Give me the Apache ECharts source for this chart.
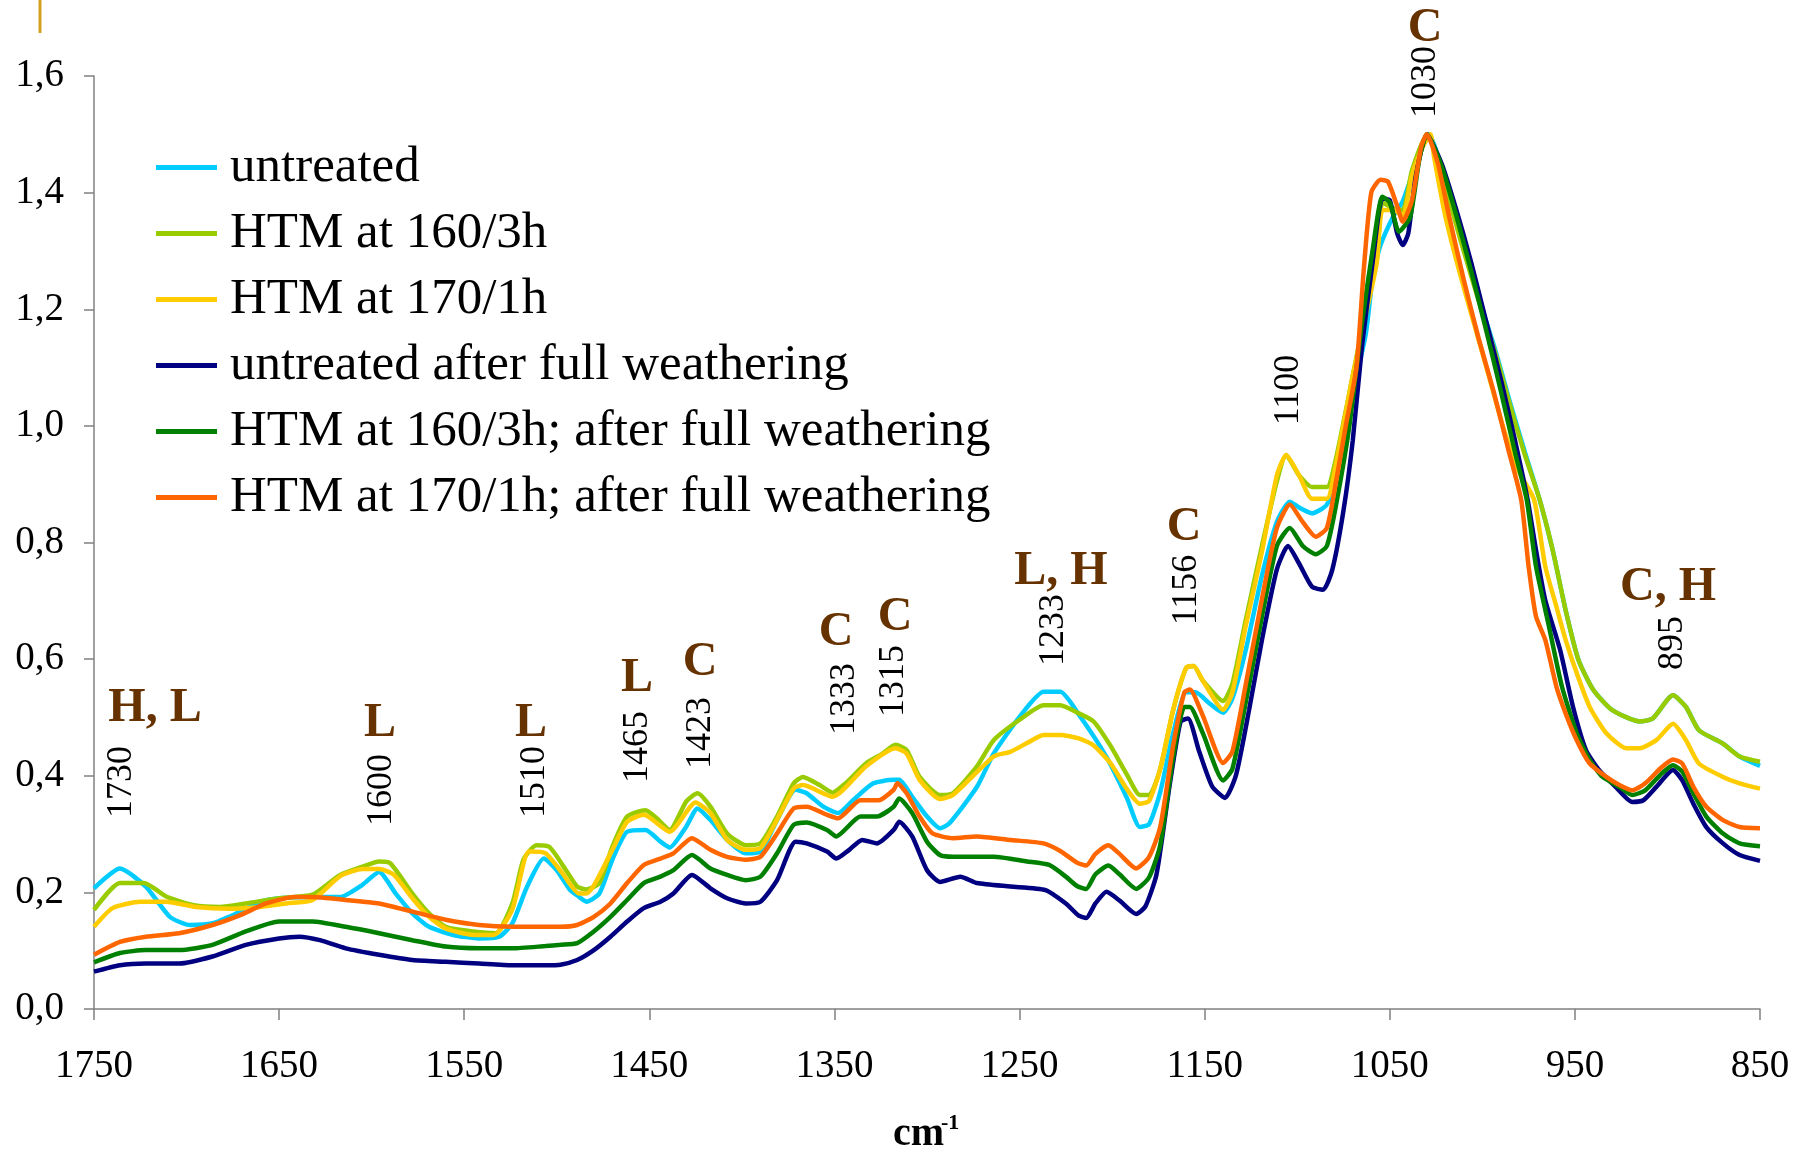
<!DOCTYPE html>
<html>
<head>
<meta charset="utf-8">
<script src="https://cdn.jsdelivr.net/npm/echarts@6/dist/echarts.min.js"></script>
<style>
html,body{margin:0;padding:0;background:#fff;}
#chart{width:1796px;height:1151px;}
</style>
</head>
<body>
<div id="chart"></div>
<script>
// ---- data (wavenumber cm-1, absorbance) ----
const seriesNames = [
  'untreated',
  'HTM at 160/3h',
  'HTM at 170/1h',
  'untreated after full weathering',
  'HTM at 160/3h; after full weathering',
  'HTM at 170/1h; after full weathering'
];

const untreated = [[1750,0.207],[1736,0.241],[1722,0.21],[1709,0.158],[1698,0.144],[1686,0.147],[1673,0.164],[1660,0.184],[1650,0.19],[1632,0.192],[1617,0.192],[1605,0.213],[1596,0.235],[1587,0.198],[1578,0.164],[1569,0.141],[1556,0.127],[1542,0.121],[1531,0.124],[1524,0.147],[1516,0.21],[1507,0.258],[1500,0.238],[1493,0.205],[1489,0.195],[1484,0.184],[1477,0.198],[1470,0.256],[1462,0.304],[1452,0.307],[1444,0.287],[1439,0.277],[1430,0.313],[1424,0.344],[1417,0.324],[1408,0.29],[1398,0.267],[1390,0.27],[1381,0.324],[1371,0.376],[1365,0.37],[1356,0.347],[1348,0.336],[1340,0.358],[1329,0.387],[1318,0.393],[1315,0.393],[1308,0.364],[1300,0.33],[1293,0.31],[1288,0.318],[1273,0.381],[1264,0.438],[1250,0.501],[1237,0.544],[1228,0.544],[1218,0.505],[1203,0.432],[1192,0.362],[1185,0.312],[1180,0.317],[1174,0.372],[1167,0.473],[1160,0.543],[1155,0.543],[1147,0.523],[1140,0.508],[1135,0.533],[1128,0.613],[1119,0.744],[1111,0.835],[1104,0.87],[1099,0.86],[1092,0.85],[1084,0.865],[1079,0.915],[1070,1.056],[1063,1.157],[1059,1.26],[1055,1.31],[1048,1.36],[1043,1.385],[1038,1.43],[1032,1.485],[1029,1.5],[1020,1.42],[1011,1.32],[1002,1.22],[993,1.13],[985,1.04],[977,0.955],[969,0.873],[962,0.787],[955,0.684],[948,0.598],[940,0.547],[930,0.513],[915,0.493],[908,0.498],[897,0.538],[890,0.518],[883,0.478],[870,0.455],[861,0.433],[850,0.417]];

const htm160 = [[1750,0.17],[1736,0.216],[1723,0.216],[1711,0.193],[1696,0.178],[1682,0.175],[1668,0.181],[1650,0.19],[1632,0.196],[1617,0.23],[1605,0.244],[1596,0.253],[1590,0.25],[1578,0.198],[1569,0.164],[1560,0.141],[1545,0.133],[1533,0.13],[1524,0.181],[1518,0.256],[1511,0.281],[1504,0.278],[1495,0.238],[1489,0.21],[1484,0.205],[1477,0.216],[1470,0.278],[1462,0.33],[1452,0.341],[1446,0.327],[1439,0.307],[1430,0.356],[1424,0.37],[1417,0.347],[1408,0.301],[1398,0.281],[1390,0.284],[1381,0.33],[1372,0.387],[1367,0.398],[1358,0.384],[1351,0.371],[1344,0.387],[1333,0.421],[1324,0.438],[1317,0.453],[1311,0.444],[1304,0.398],[1293,0.367],[1286,0.37],[1273,0.416],[1264,0.461],[1250,0.496],[1237,0.521],[1228,0.521],[1218,0.507],[1210,0.493],[1201,0.452],[1192,0.402],[1185,0.367],[1180,0.367],[1174,0.412],[1167,0.513],[1160,0.585],[1156,0.588],[1151,0.563],[1140,0.528],[1135,0.558],[1128,0.664],[1119,0.795],[1111,0.905],[1106,0.95],[1099,0.915],[1092,0.895],[1084,0.895],[1079,0.945],[1070,1.086],[1063,1.197],[1057,1.287],[1054,1.383],[1048,1.373],[1043,1.37],[1038,1.438],[1030,1.499],[1020,1.41],[1011,1.31],[1002,1.215],[993,1.125],[985,1.035],[977,0.95],[969,0.873],[962,0.787],[955,0.684],[948,0.598],[940,0.547],[930,0.513],[915,0.493],[908,0.498],[897,0.538],[890,0.518],[883,0.478],[870,0.455],[861,0.433],[850,0.424]];

const htm170 = [[1750,0.141],[1740,0.173],[1725,0.184],[1711,0.184],[1695,0.175],[1677,0.172],[1660,0.175],[1646,0.181],[1632,0.187],[1617,0.228],[1605,0.24],[1596,0.24],[1588,0.23],[1578,0.19],[1569,0.158],[1560,0.138],[1545,0.127],[1534,0.127],[1524,0.171],[1515,0.27],[1506,0.267],[1497,0.233],[1488,0.198],[1484,0.198],[1470,0.273],[1462,0.321],[1453,0.333],[1439,0.304],[1425,0.354],[1417,0.336],[1408,0.29],[1398,0.273],[1390,0.276],[1372,0.378],[1367,0.384],[1351,0.364],[1333,0.416],[1317,0.447],[1311,0.438],[1304,0.393],[1293,0.36],[1286,0.367],[1264,0.433],[1255,0.441],[1246,0.456],[1237,0.47],[1228,0.47],[1218,0.464],[1210,0.452],[1201,0.422],[1192,0.377],[1185,0.352],[1180,0.357],[1174,0.412],[1167,0.513],[1160,0.585],[1156,0.588],[1151,0.563],[1140,0.513],[1135,0.543],[1128,0.654],[1119,0.785],[1111,0.915],[1106,0.95],[1099,0.915],[1092,0.875],[1084,0.875],[1079,0.935],[1070,1.086],[1063,1.19],[1057,1.28],[1054,1.37],[1048,1.37],[1043,1.36],[1038,1.43],[1032,1.48],[1028,1.5],[1026,1.46],[1020,1.36],[1012,1.26],[1004,1.17],[996,1.08],[988,0.99],[980,0.92],[972,0.873],[966,0.759],[960,0.69],[955,0.633],[949,0.576],[942,0.518],[933,0.473],[922,0.447],[915,0.447],[906,0.461],[897,0.489],[890,0.461],[883,0.421],[870,0.398],[861,0.387],[850,0.378]];

const untreatedWeathered = [[1750,0.064],[1736,0.075],[1722,0.078],[1704,0.078],[1686,0.09],[1668,0.11],[1650,0.121],[1639,0.124],[1628,0.118],[1614,0.104],[1596,0.093],[1578,0.084],[1560,0.081],[1542,0.078],[1524,0.075],[1506,0.075],[1498,0.076],[1489,0.084],[1480,0.101],[1471,0.124],[1462,0.15],[1453,0.173],[1444,0.184],[1437,0.198],[1427,0.23],[1417,0.207],[1408,0.19],[1398,0.181],[1390,0.184],[1381,0.221],[1371,0.287],[1365,0.284],[1354,0.27],[1349,0.258],[1342,0.273],[1335,0.29],[1327,0.284],[1318,0.307],[1315,0.321],[1308,0.296],[1300,0.238],[1293,0.218],[1282,0.227],[1273,0.216],[1255,0.21],[1236,0.204],[1225,0.181],[1218,0.16],[1214,0.156],[1209,0.181],[1203,0.201],[1196,0.186],[1187,0.163],[1182,0.176],[1176,0.231],[1169,0.382],[1163,0.493],[1159,0.498],[1153,0.442],[1146,0.382],[1139,0.362],[1133,0.402],[1126,0.513],[1119,0.634],[1111,0.754],[1105,0.794],[1099,0.764],[1092,0.724],[1086,0.719],[1081,0.754],[1075,0.855],[1070,0.975],[1065,1.137],[1059,1.287],[1054,1.39],[1050,1.387],[1046,1.33],[1043,1.31],[1040,1.33],[1036,1.427],[1030,1.5],[1022,1.45],[1014,1.37],[1006,1.28],[998,1.18],[990,1.08],[982,0.97],[975.5,0.873],[971,0.787],[966,0.701],[958,0.616],[951,0.518],[944,0.444],[937,0.41],[928,0.381],[919,0.355],[913,0.358],[906,0.381],[897,0.41],[892,0.392],[886,0.352],[879,0.312],[870,0.284],[861,0.264],[850,0.254]];

const htm160Weathered = [[1750,0.08],[1736,0.096],[1722,0.101],[1704,0.101],[1686,0.11],[1668,0.133],[1650,0.15],[1632,0.15],[1614,0.141],[1596,0.13],[1578,0.118],[1560,0.107],[1542,0.104],[1524,0.104],[1506,0.108],[1498,0.11],[1489,0.113],[1480,0.133],[1471,0.158],[1462,0.187],[1453,0.216],[1444,0.227],[1437,0.238],[1427,0.264],[1417,0.241],[1408,0.23],[1398,0.221],[1390,0.227],[1381,0.267],[1372,0.316],[1365,0.32],[1354,0.307],[1349,0.296],[1336,0.33],[1327,0.33],[1318,0.347],[1315,0.361],[1308,0.336],[1300,0.287],[1293,0.264],[1286,0.261],[1264,0.261],[1246,0.253],[1234,0.247],[1225,0.227],[1219,0.211],[1214,0.206],[1209,0.231],[1202,0.246],[1196,0.231],[1187,0.206],[1180,0.226],[1174,0.281],[1167,0.432],[1161,0.518],[1158,0.518],[1151,0.473],[1140,0.392],[1135,0.412],[1128,0.523],[1119,0.674],[1111,0.794],[1104,0.825],[1097,0.794],[1090,0.78],[1084,0.794],[1079,0.865],[1072,0.996],[1065,1.177],[1059,1.307],[1054,1.393],[1050,1.383],[1045,1.333],[1039,1.358],[1034,1.458],[1030,1.5],[1022,1.445],[1014,1.36],[1006,1.265],[998,1.165],[990,1.06],[982,0.95],[976,0.873],[971,0.759],[964,0.656],[957,0.553],[949,0.473],[942,0.427],[935,0.398],[926,0.381],[919,0.367],[912,0.375],[903,0.404],[897,0.418],[892,0.407],[886,0.37],[879,0.33],[870,0.301],[861,0.284],[850,0.279]];

const htm170Weathered = [[1750,0.093],[1736,0.115],[1722,0.124],[1704,0.13],[1686,0.144],[1671,0.161],[1657,0.181],[1642,0.192],[1632,0.192],[1614,0.187],[1596,0.181],[1578,0.167],[1560,0.153],[1542,0.144],[1524,0.141],[1506,0.141],[1498,0.141],[1489,0.144],[1480,0.158],[1471,0.181],[1462,0.216],[1453,0.247],[1444,0.258],[1437,0.267],[1427,0.293],[1417,0.273],[1408,0.261],[1398,0.256],[1390,0.261],[1381,0.301],[1372,0.344],[1365,0.347],[1354,0.333],[1348,0.327],[1336,0.358],[1326,0.358],[1318,0.376],[1316,0.387],[1311,0.37],[1304,0.33],[1297,0.301],[1286,0.293],[1273,0.296],[1255,0.29],[1237,0.284],[1228,0.271],[1219,0.251],[1214,0.246],[1209,0.266],[1202,0.281],[1196,0.266],[1187,0.241],[1180,0.261],[1174,0.312],[1167,0.452],[1161,0.543],[1158,0.548],[1151,0.503],[1140,0.422],[1135,0.442],[1128,0.553],[1119,0.704],[1111,0.825],[1104,0.865],[1097,0.835],[1090,0.81],[1084,0.825],[1079,0.905],[1074,0.996],[1068,1.1],[1064,1.27],[1060,1.4],[1055,1.422],[1051,1.419],[1046,1.377],[1043,1.35],[1038,1.387],[1033,1.479],[1030,1.5],[1024,1.45],[1018,1.36],[1010,1.25],[1002,1.15],[994,1.06],[986,0.96],[979,0.873],[975,0.759],[971,0.673],[966,0.633],[960,0.553],[955,0.507],[949,0.461],[942,0.421],[933,0.398],[926,0.384],[919,0.375],[912,0.387],[903,0.415],[897,0.428],[892,0.421],[886,0.381],[879,0.347],[870,0.324],[861,0.312],[850,0.31]];

const xTickLabels = ['1750','1650','1550','1450','1350','1250','1150','1050','950','850'];
const yTickLabels = ['0,0','0,2','0,4','0,6','0,8','1,0','1,2','1,4','1,6'];
const bandLetters = ['H, L','L','L','L','C','C','C','L, H','C','C','C, H'];
const bandNumbers = ['1730','1600','1510','1465','1423','1333','1315','1233','1156','1100','1030','895'];
const axisTitle = ['cm', '-1'];

// ---- styles / layout ----
const colors = ['#00CCFF','#99CC00','#FFCC00','#000080','#008000','#FF6600'];
const allData = [untreated, htm160, htm170, untreatedWeathered, htm160Weathered, htm170Weathered];
const FONT = "'Liberation Serif','Times New Roman',serif";
const X0 = 1750; // left end of axis (axis runs 1750 -> 850)
const letterPos = [[155,709],[380,724],[531,724],[637,679],[700,663],[836,633],[895,618],[1061,572],[1184,528],[1425,29],[1668,588]];
const numberPos = [[122,782],[382,790],[535,782],[638,747],[701,733],[845,699],[894,681],[1054,630],[1187,590],[1289,390],[1426,82],[1673,643]];

const chart = echarts.init(document.getElementById('chart'), null, {renderer:'canvas'});

const graphics = [];
graphics.push({type:'rect', shape:{x:38.5,y:0,width:3,height:33}, style:{fill:'#D4A020'}, silent:true});
bandLetters.forEach((t,i)=>{
  graphics.push({type:'text', x:letterPos[i][0], y:letterPos[i][1], silent:true,
    style:{text:t, font:'bold 48px '+FONT, fill:'#663300', align:'center', verticalAlign:'middle'}});
});
bandNumbers.forEach((t,i)=>{
  graphics.push({type:'text', x:numberPos[i][0], y:numberPos[i][1], rotation:Math.PI/2, silent:true,
    style:{text:t, font:'36px '+FONT, fill:'#000', align:'center', verticalAlign:'middle'}});
});
graphics.push({type:'text', x:893, y:1135, silent:true,
  style:{text:axisTitle[0], font:'bold 40px '+FONT, fill:'#000', align:'left', verticalAlign:'middle'}});
graphics.push({type:'text', x:941, y:1123, silent:true,
  style:{text:axisTitle[1], font:'bold 22px '+FONT, fill:'#000', align:'left', verticalAlign:'middle'}});

const option = {
  animation:false,
  backgroundColor:'#fff',
  grid:{left:94, right:36, top:76, bottom:142, containLabel:false},
  legend:{
    orient:'vertical', left:151, top:137, icon:'rect', itemWidth:61, itemHeight:5, itemGap:15,
    selectedMode:false,
    textStyle:{fontFamily:FONT, fontSize:51, lineHeight:51, color:'#000', padding:[0,0,0,8]},
    data:seriesNames
  },
  xAxis:{
    type:'value', min:0, max:900, interval:100,
    axisLine:{show:true, onZero:false, lineStyle:{color:'#808080', width:1.5}},
    axisTick:{show:true, length:11, lineStyle:{color:'#808080', width:1.5}},
    splitLine:{show:false},
    axisLabel:{margin:38, fontFamily:FONT, fontSize:39, color:'#000',
      formatter:(v)=>xTickLabels[Math.round(v/100)]}
  },
  yAxis:{
    type:'value', min:0, max:1.6, interval:0.2,
    axisLine:{show:true, lineStyle:{color:'#808080', width:1.5}},
    axisTick:{show:true, length:10, lineStyle:{color:'#808080', width:1.5}},
    splitLine:{show:false},
    axisLabel:{margin:30, fontFamily:FONT, fontSize:39, color:'#000',
      formatter:(v)=>yTickLabels[Math.round(v/0.2)]}
  },
  series: seriesNames.map((name,i)=>({
    name:name, type:'line', showSymbol:false, symbol:'none', smooth:0.2,
    color:colors[i],
    lineStyle:{color:colors[i], width:4.5},
    data: allData[i].map(p=>[X0 - p[0], p[1]]),
    z:2+i
  })),
  graphic:graphics
};
chart.setOption(option);
</script>
</body>
</html>
